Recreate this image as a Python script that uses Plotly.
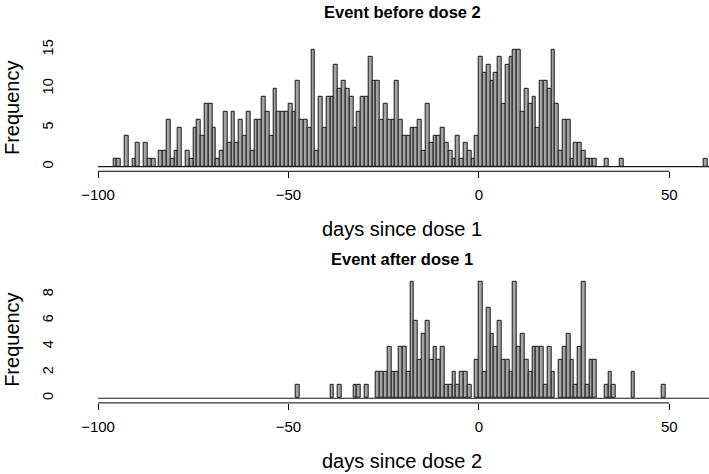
import plotly.graph_objects as go

# ---------------- data (1-day bins; day = left edge of bin) ----------------
top_days = [-96, -95, -93, -91, -90, -88, -87, -86, -84, -83, -82, -81, -80, -79,
            -77, -76, -75, -74, -73, -72, -71, -70, -69, -68, -67, -66, -65, -64,
            -63, -62, -61, -60, -59, -58, -57, -56, -55, -54, -53, -52, -51, -50,
            -49, -48, -47, -46, -45, -44, -43, -42, -41, -40, -39, -38, -37, -36,
            -35, -34, -33, -32, -31, -30, -29, -28, -27, -26, -25, -24, -23, -22,
            -21, -20, -19, -18, -17, -16, -15, -14, -13, -12, -11, -10, -9, -8,
            -7, -6, -5, -4, -3, -2, -1, 0, 1, 2, 3, 4, 5, 6, 7, 8, 9, 10, 11, 12,
            13, 14, 15, 16, 17, 18, 19, 20, 21, 22, 23, 24, 25, 26, 27, 28, 29, 30,
            33, 37, 59]
top_counts = [1, 1, 4, 1, 3, 3, 1, 1, 2, 2, 6, 1, 2, 5,
              2, 1, 5, 6, 4, 8, 8, 5, 1, 2, 7, 3, 7, 3,
              6, 4, 7, 2, 6, 6, 9, 7, 4, 10, 7, 7, 7, 8,
              7, 11, 6, 6, 5, 15, 2, 9, 5, 9, 9, 13, 10, 11,
              10, 9, 5, 7, 9, 9, 14, 11, 11, 6, 8, 6, 6, 11,
              6, 4, 4, 5, 5, 6, 2, 8, 3, 4, 4, 5, 3, 2,
              1, 4, 1, 3, 2, 1, 4, 14, 12, 13, 11, 12, 14, 8, 13, 14, 15, 15, 7, 10,
              8, 9, 5, 11, 11, 10, 15, 8, 2, 6, 6, 1, 3, 3, 2, 1, 1, 1,
              1, 1, 1]

bot_days = [-48, -39, -37, -33, -32, -30, -27, -26, -25, -24, -23, -22, -21, -20,
            -19, -18, -17, -16, -15, -14, -13, -12, -11, -10, -9, -8, -7, -6,
            -5, -4, -3, -1, 0, 1, 2, 3, 4, 5, 6, 7, 8, 9, 10, 11, 12, 13, 14,
            15, 16, 17, 18, 19, 21, 22, 23, 24, 25, 26, 27, 28, 29, 30, 33, 34,
            35, 40, 48]
bot_counts = [1, 1, 1, 1, 1, 1, 2, 2, 2, 4, 2, 2, 4, 4,
              2, 9, 6, 3, 5, 6, 3, 4, 3, 4, 1, 1, 2, 1,
              2, 2, 1, 3, 9, 2, 7, 5, 4, 6, 3, 3, 2, 9, 4, 5, 3, 2, 4,
              4, 4, 1, 4, 2, 3, 4, 5, 3, 1, 4, 9, 1, 3, 3, 1, 2,
              1, 2, 1]

breaks_range = [-100, 62]          # histogram break span (zero bins draw as baseline)
x_tick_vals = [-100, -50, 0, 50]
x_tick_text = ["\u2212100", "\u221250", "0", "50"]
top_y_ticks = [0, 5, 10, 15]
bot_y_ticks = [0, 2, 4, 6, 8]

titles = ["Event before dose 2", "Event after dose 1"]
xlabels = ["days since dose 1", "days since dose 2"]
ylabel = "Frequency"

# ---------------- layout helpers ----------------
W, H = 709, 474
FONT = "Liberation Sans, Arial, Helvetica, sans-serif"
BAR_FILL = "#a4a4a4"
EDGE = "#1a1a1a"


def py(px):
    return 1 - px / H


fig = go.Figure()

panels = [
    dict(days=top_days, counts=top_counts, yticks=top_y_ticks, yr=[-0.6, 15.6],
         top=39.3, bottom=167.4, xa="x", ya="y", title_y=6, xlabel_y=226),
    dict(days=bot_days, counts=bot_counts, yticks=bot_y_ticks, yr=[-0.36, 9.36],
         top=274.3, bottom=402.0, xa="x2", ya="y2", title_y=256, xlabel_y=461),
]

plot_left_px = 73.7
x_range = [-106.4, 60.42]
x_dom = [plot_left_px / W, 1.0]

annotations = []
shapes = []
for i, p in enumerate(panels):
    fig.add_trace(go.Bar(
        x=p["days"], y=p["counts"], width=1, offset=0,
        marker=dict(color=BAR_FILL, line=dict(color=EDGE, width=1)),
        xaxis=p["xa"], yaxis=p["ya"], showlegend=False, hoverinfo="x+y"))
    fig.add_trace(go.Scatter(
        x=breaks_range, y=[0, 0], mode="lines",
        line=dict(color=EDGE, width=1.2),
        xaxis=p["xa"], yaxis=p["ya"], showlegend=False, hoverinfo="skip"))

    sfx = "" if i == 0 else "2"
    fig.layout["xaxis" + sfx] = dict(
        domain=x_dom, range=x_range, anchor="y" + sfx,
        showgrid=False, zeroline=False, showline=False,
        tickmode="array", tickvals=x_tick_vals, ticktext=x_tick_text,
        ticks="outside", ticklen=6, tickwidth=1, tickcolor="black",
        ticklabelstandoff=4,
        tickfont=dict(family=FONT, size=15, color="black"))
    fig.layout["yaxis" + sfx] = dict(
        domain=[py(p["bottom"]), py(p["top"])], range=p["yr"], anchor="x" + sfx,
        showgrid=False, zeroline=False, showline=False,
        tickmode="array", tickvals=p["yticks"], ticks="",
        tickangle=-90, ticklabelstandoff=17,
        tickfont=dict(family=FONT, size=14.5, color="black"))

    # x axis line spanning first to last tick (R style)
    shapes.append(dict(type="line", xref=p["xa"], yref=p["ya"] + " domain",
                       x0=x_tick_vals[0], x1=x_tick_vals[-1], y0=0, y1=0,
                       line=dict(color="black", width=1)))

    annotations.append(dict(text="<b>" + titles[i] + "</b>", xref="paper", yref="paper",
                            x=402 / W, y=py(p["title_y"]), showarrow=False,
                            xanchor="center", yanchor="middle",
                            font=dict(family=FONT, size=16.5, color="black")))
    annotations.append(dict(text=xlabels[i], xref="paper", yref="paper",
                            x=402 / W, y=py(p["xlabel_y"]), showarrow=False,
                            xanchor="center", yanchor="middle",
                            font=dict(family=FONT, size=20, color="black")))
    annotations.append(dict(text=ylabel, xref="paper", yref="paper",
                            x=12 / W, y=py((p["top"] + p["bottom"]) / 2), showarrow=False,
                            xanchor="center", yanchor="middle", textangle=-90,
                            font=dict(family=FONT, size=20, color="black")))

fig.update_layout(
    width=W, height=H,
    margin=dict(l=0, r=0, t=0, b=0),
    paper_bgcolor="white", plot_bgcolor="white",
    bargap=0, annotations=annotations, shapes=shapes,
    showlegend=False,
)

fig.write_html("out.html", config={"displayModeBar": False},
               post_script="document.body.style.margin='0px';document.body.style.overflow='hidden';")
